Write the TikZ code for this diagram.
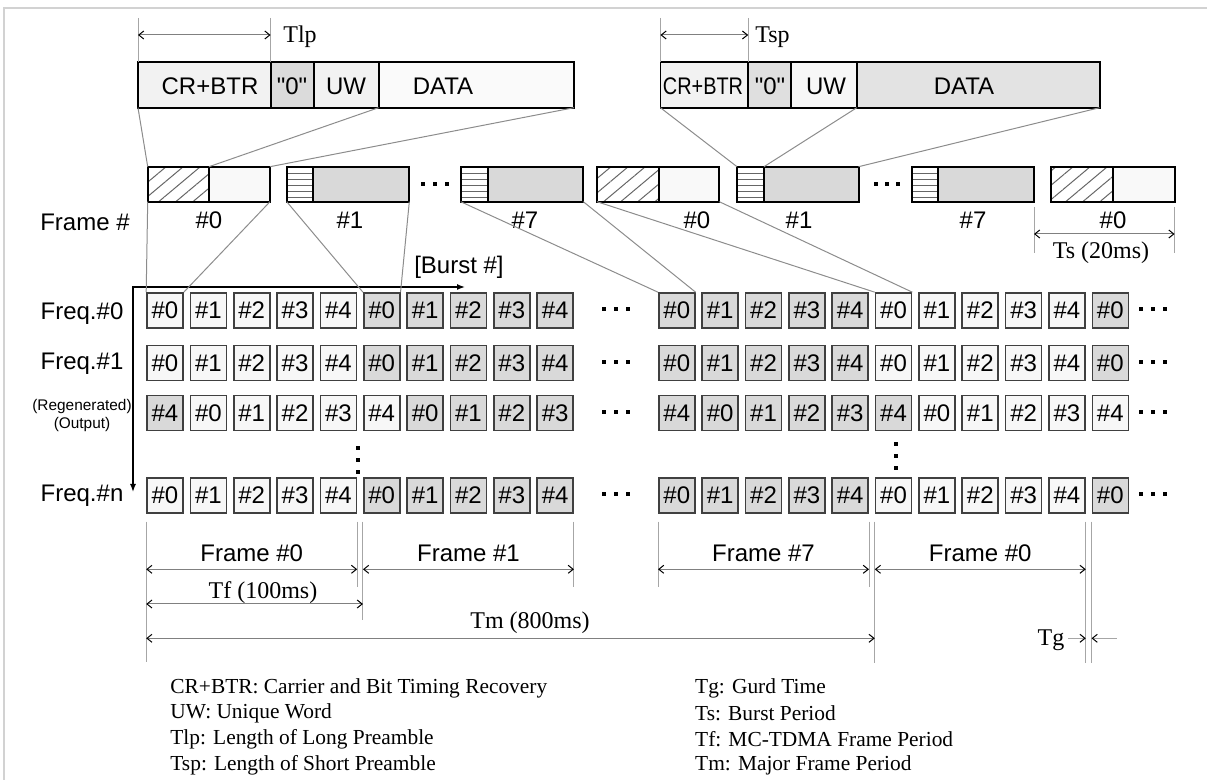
\documentclass[tikz,border=0pt]{standalone}
\usepackage{fontspec}
\setmainfont{Liberation Serif}
\setsansfont{Liberation Sans}
\usetikzlibrary{arrows.meta,patterns.meta}

\begin{document}
\begin{tikzpicture}[x=0.5pt, y=-0.5pt,
  sans/.style={font=\sffamily\fontsize{12}{14}\selectfont},
  serif/.style={font=\fontsize{12}{14}\selectfont},
  legend/.style={font=\fontsize{10.7}{12.8}\selectfont, anchor=west, inner sep=0pt},
  box/.style={draw=black, line width=0.9pt},
  cell/.style={draw=black!75, line width=0.8pt, minimum width=18pt, minimum height=17.5pt, inner sep=0pt, sans},
  zoomline/.style={draw=gray!90, line width=0.5pt},
  ext/.style={draw=gray!70, line width=0.5pt},
  dim/.style={draw=gray, line width=0.5pt, {Straight Barb[length=2.5pt,width=4pt,color=black]}-{Straight Barb[length=2.5pt,width=4pt,color=black]}},
  hatch/.style={pattern={Lines[angle=40,distance=5.5pt,line width=0.5pt]}, pattern color=gray!80!black},
  stripes/.style={pattern={Lines[angle=0,distance=3pt,line width=0.5pt]}, pattern color=gray!80!black}]
\useasboundingbox (0,0) rectangle (1207,780);
\draw[gray!35, line width=1pt] (1207,8) -- (4,8) -- (4,780);

% long preamble packet
\foreach \n/\a/\b/\f/\tx/\t in {lcr/138/270.6/10/210/CR+BTR, lz/270.6/313.6/28/292/{\textquotedbl0\textquotedbl}, luw/313.6/378.6/10/346/UW, ldat/378.6/574/4/443/DATA}{
  \draw[box, fill=gray!\f] (\a,62.3) rectangle (\b,107.7);
  \node[sans] (\n) at (\tx,86) {\t};
}
\coordinate (lp-sw) at (138,107.7);
\coordinate (luw-se) at (378.6,107.7);
\coordinate (lp-se) at (574,107.7);
\draw[ext] (138,18) -- (138,62.3) (270.6,18) -- (270.6,62.3);
\draw[dim] (138,35) -- (270.6,35);
\node[serif, anchor=west, inner sep=0pt] (tlp) at (283,37) {Tlp};

% short preamble packet
\foreach \n/\a/\b/\f/\tx/\t in {scr/660.4/748.2/10/703/{\scalebox{0.83}[1]{CR+BTR}}, sz/748.2/791/25/770/{\textquotedbl0\textquotedbl}, suw/791/856.8/6/826/UW, sdat/856.8/1099.6/22/964/DATA}{
  \draw[box, fill=gray!\f] (\a,62.3) rectangle (\b,107.7);
  \node[sans] (\n) at (\tx,86) {\t};
}
\coordinate (sp-sw) at (660.4,107.7);
\coordinate (suw-se) at (856.8,107.7);
\coordinate (sp-se) at (1099.6,107.7);
\draw[ext] (660.4,18) -- (660.4,62.3) (748.2,18) -- (748.2,62.3);
\draw[dim] (660.4,35) -- (748.2,35);
\node[serif, anchor=west, inner sep=0pt] (tsp) at (755,37) {Tsp};

% frame row
\node[sans] (framelab) at (85,222) {Frame \#};
\foreach \n/\a/\d/\b/\lx/\t in {F0a/147.7/209/270/209/0, F0b/597/658.6/719.3/697/0, F0c/1050.7/1113/1174.6/1113/0}{
  \fill[gray!5] (\d,166.7) rectangle (\b,201.7);
  \path[hatch] (\a,166.7) rectangle (\d,201.7);
  \draw[box] (\a,166.7) rectangle (\b,201.7) (\d,166.7) -- (\d,201.7);
  \coordinate (\n-nw) at (\a,166.7);
  \coordinate (\n-nd) at (\d,166.7);
  \coordinate (\n-ne) at (\b,166.7);
  \coordinate (\n-sw) at (\a,201.7);
  \coordinate (\n-se) at (\b,201.7);
  \node[sans] (\n-lab) at (\lx,220) {\#\t};
}
\foreach \n/\a/\d/\b/\lx/\t in {F1a/286.7/313.3/409.3/350/1, F7a/460.7/488.3/583.3/525/7, F1b/737/764/858.6/799/1, F7b/912/938/1034/973/7}{
  \fill[gray!30] (\d,166.7) rectangle (\b,201.7);
  \path[stripes] (\a,166.7) rectangle (\d,201.7);
  \draw[box] (\a,166.7) rectangle (\b,201.7) (\d,166.7) -- (\d,201.7);
  \coordinate (\n-nw) at (\a,166.7);
  \coordinate (\n-nd) at (\d,166.7);
  \coordinate (\n-ne) at (\b,166.7);
  \coordinate (\n-sw) at (\a,201.7);
  \coordinate (\n-se) at (\b,201.7);
  \node[sans] (\n-lab) at (\lx,220) {\#\t};
}
\foreach \x in {423,435,447,876,887,898} \fill (\x-2,182) rectangle (\x+2,186);
\draw[zoomline] (lp-sw) -- (F0a-nw) (luw-se) -- (F0a-nd) (lp-se) -- (F0a-ne);
\draw[zoomline] (sp-sw) -- (F1b-nw) (suw-se) -- (F1b-nd) (sp-se) -- (F1b-ne);

% Ts
\draw[ext] (1034,207) -- (1034,253) (1174.6,207) -- (1174.6,253);
\draw[dim] (1034,234) -- (1174.6,234);
\node[serif] (ts) at (1101,253) {Ts (20ms)};

% burst grid
\foreach \r/\y/\g in {0/310.5/0, 1/363/0, 2/413/1, n/495.5/0}{
  \foreach \i in {0,...,9}{
    \pgfmathtruncatemacro\k{ifthenelse(\g==1, mod(\i+4,5), mod(\i,5))}
    \pgfmathtruncatemacro\f{ifthenelse(\g==1, ifthenelse(or(\i==0,\i>5),30,6), ifthenelse(\i>4,30,6))}
    \node[cell, fill=gray!\f] (L\r-\i) at ({165+\i*43.35},\y) {\#\k};
  }
  \foreach \i in {0,...,10}{
    \pgfmathtruncatemacro\k{ifthenelse(\g==1, mod(\i+4,5), mod(\i,5))}
    \pgfmathtruncatemacro\f{ifthenelse(\g==1, ifthenelse(\i<6,30,6), ifthenelse(or(\i<5,\i==10),30,6))}
    \node[cell, fill=gray!\f] (R\r-\i) at ({676.8+\i*43.35},\y) {\#\k};
  }
  \foreach \x in {604,616,628,1141,1153,1165} \fill (\x-2,\y-3) rectangle (\x+2,\y+1);
}
\foreach \y in {448,460,472} \fill (356,\y-2) rectangle (360,\y+2);
\foreach \y in {444,456,468} \fill (894,\y-2) rectangle (898,\y+2);

\node[sans] (f0) at (82,314) {Freq.\#0};
\node[sans] (f1) at (82,364) {Freq.\#1};
\node[font=\sffamily\fontsize{7.7}{9}\selectfont, align=center] (fr) at (82,416) {(Regenerated)\\(Output)};
\node[sans] (fn) at (82,496) {Freq.\#n};

\draw[black, line width=0.7pt, {Latex[length=4pt,width=3pt]}-{Latex[length=4pt,width=3pt]}] (465,287) -| (133,492);
\node[sans] (burst) at (459,267) {[Burst \#]};

\draw[zoomline] (F0a-sw) -- (L0-0.north west) (F0a-se) -- (L0-0.north east);
\draw[zoomline] (F1a-sw) -- (L0-5.north west) (F1a-se) -- (L0-5.north east);
\draw[zoomline] (F7a-sw) -- (R0-0.north west) (F7a-se) -- (R0-0.north east);
\draw[zoomline] (F0b-sw) -- (R0-5.north west) (F0b-se) -- (R0-5.north east);

% time scale
\coordinate (top) at (0,521.7);
\draw[ext] (Ln-0.west |- top) -- ++(0,140);
\draw[ext] (Ln-4.east |- top) -- ++(0,65);
\draw[ext] (Ln-5.west |- top) -- ++(0,98);
\draw[ext] (Ln-9.east |- top) -- ++(0,65);
\draw[ext] (Rn-0.west |- top) -- ++(0,65);
\draw[ext] (Rn-4.east |- top) -- ++(0,65);
\draw[ext] (Rn-5.west |- top) -- ++(0,141);
\draw[ext] (Rn-9.east |- top) -- ++(0,141);
\draw[ext] (Rn-10.west |- top) -- ++(0,141);
\coordinate (yf) at (0,569.3);
\draw[dim] (Ln-0.west |- yf) -- (Ln-4.east |- yf) node[sans, midway, above] {Frame \#0};
\draw[dim] (Ln-5.west |- yf) -- (Ln-9.east |- yf) node[sans, midway, above] {Frame \#1};
\draw[dim] (Rn-0.west |- yf) -- (Rn-4.east |- yf) node[sans, midway, above] {Frame \#7};
\draw[dim] (Rn-5.west |- yf) -- (Rn-9.east |- yf) node[sans, midway, above] {Frame \#0};
\coordinate (ytf) at (0,604);
\draw[dim] (Ln-0.west |- ytf) -- (Ln-5.west |- ytf);
\node[serif] (tf) at (263,593) {Tf (100ms)};
\coordinate (ytm) at (0,638.3);
\draw[dim] (Ln-0.west |- ytm) -- (Rn-5.west |- ytm);
\node[serif] (tm) at (530,623) {Tm (800ms)};
\draw[ext, -{Straight Barb[length=2.5pt,width=4pt,color=black]}] (1068.4,638.3) -- (Rn-9.east |- ytm);
\draw[ext, -{Straight Barb[length=2.5pt,width=4pt,color=black]}] (1116.8,638.3) -- (Rn-10.west |- ytm);
\node[serif] (tg) at (1051,640) {Tg};

% legend
\node[legend] at (170,688.3) {CR+BTR: Carrier and Bit Timing Recovery};
\node[legend] at (170,713.3) {UW: Unique Word};
\node[legend] at (170,739.3) {Tlp: Length of Long Preamble};
\node[legend] at (170,765) {Tsp: Length of Short Preamble};
\node[legend] at (694.8,688.3) {Tg: Gurd Time};
\node[legend] at (694.8,713.3) {Ts: Burst Period};
\node[legend] at (694.8,739.3) {Tf: MC-TDMA Frame Period};
\node[legend] at (694.8,765) {Tm: Major Frame Period};
\end{tikzpicture}
\end{document}
